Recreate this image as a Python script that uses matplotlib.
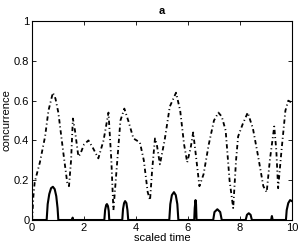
import numpy as np
import matplotlib
matplotlib.use("Agg")
import matplotlib.pyplot as plt

plt.rcParams['font.family'] = ['Liberation Sans', 'DejaVu Sans']

# dash-dot curve
t_dash = [0.0, 0.05, 0.1, 0.3, 0.5, 0.63, 0.8, 0.9, 1.01, 1.2, 1.35, 1.42, 1.5, 1.57,
          1.65, 1.78, 1.85, 2.0, 2.17, 2.35, 2.55, 2.75, 2.94, 3.05, 3.13, 3.25, 3.4,
          3.55, 3.7, 3.9, 4.15, 4.3, 4.45, 4.54, 4.62, 4.73, 4.8, 4.92, 5.1, 5.3, 5.54,
          5.7, 5.85, 5.97, 6.1, 6.2, 6.3, 6.44, 6.6, 6.8, 7.0, 7.17, 7.3, 7.45, 7.6,
          7.74, 7.85, 7.93, 8.1, 8.3, 8.5, 8.7, 8.9, 9.03, 9.15, 9.32, 9.4, 9.47, 9.6,
          9.75, 9.86, 10.0]
c_dash = [0.0, 0.12, 0.19, 0.29, 0.42, 0.55, 0.64, 0.61, 0.54, 0.34, 0.19, 0.17, 0.30, 0.51,
          0.45, 0.32, 0.33, 0.38, 0.40, 0.36, 0.31, 0.40, 0.54, 0.30, 0.05, 0.25, 0.50,
          0.56, 0.50, 0.41, 0.39, 0.30, 0.14, 0.10, 0.25, 0.41, 0.38, 0.28, 0.40, 0.57, 0.64,
          0.55, 0.38, 0.29, 0.36, 0.44, 0.33, 0.17, 0.23, 0.38, 0.50, 0.54, 0.52, 0.45, 0.20,
          0.06, 0.30, 0.42, 0.48, 0.54, 0.46, 0.32, 0.17, 0.14, 0.30, 0.47, 0.35, 0.16, 0.35,
          0.55, 0.60, 0.59]

# solid curve (zero between the bumps)
t_solid = [0.0, 0.56, 0.6, 0.66, 0.73, 0.8, 0.87, 0.93, 0.98, 1.01,
           1.54, 1.56, 1.58,
           2.78, 2.81, 2.85, 2.88, 2.92, 2.95, 2.97,
           3.47, 3.5, 3.54, 3.58, 3.63, 3.67, 3.7,
           5.28, 5.32, 5.38, 5.46, 5.53, 5.59, 5.63,
           6.24, 6.26, 6.29, 6.31, 6.33,
           6.97, 7.02, 7.13, 7.24, 7.3,
           8.22, 8.27, 8.34, 8.41, 8.46,
           9.2, 9.23, 9.26,
           9.77, 9.8, 9.86, 9.93, 10.0]
c_solid = [0.0, 0.0, 0.08, 0.13, 0.16, 0.167, 0.155, 0.12, 0.06, 0.0,
           0.0, 0.012, 0.0,
           0.0, 0.05, 0.075, 0.08, 0.07, 0.045, 0.0,
           0.0, 0.055, 0.085, 0.095, 0.085, 0.05, 0.0,
           0.0, 0.08, 0.125, 0.14, 0.125, 0.08, 0.0,
           0.0, 0.06, 0.10, 0.08, 0.0,
           0.0, 0.04, 0.054, 0.04, 0.0,
           0.0, 0.026, 0.034, 0.026, 0.0,
           0.0, 0.02, 0.0,
           0.0, 0.05, 0.085, 0.10, 0.095]

xticks = [0, 2, 4, 6, 8, 10]
yticks = [0, 0.2, 0.4, 0.6, 0.8, 1]
ytick_labels = ["0", "0.2", "0.4", "0.6", "0.8", "1"]

fig = plt.figure(figsize=(3.0, 2.45), dpi=100)
ax = fig.add_axes([0.107, 0.102, 0.866, 0.812])

ax.plot(t_dash, c_dash, color='black', lw=1.3, ls=(0, (2.4, 1.6, 0.6, 1.6)))
ax.plot(t_solid, c_solid, color='black', lw=1.5)

ax.set_xlim(0, 10)
ax.set_ylim(0, 1)
ax.set_xticks(xticks)
ax.set_yticks(yticks)
ax.set_yticklabels(ytick_labels)
ax.tick_params(direction='in', top=True, right=True, labelsize=8, length=3, width=0.6, pad=2)
for s in ax.spines.values():
    s.set_linewidth(0.8)

ax.set_title('a', fontsize=8, fontweight='bold', pad=5)
ax.set_xlabel('scaled time', fontsize=8, labelpad=0)
ax.set_ylabel('concurrence', fontsize=8, labelpad=2)

fig.savefig('out.png', dpi=100)
